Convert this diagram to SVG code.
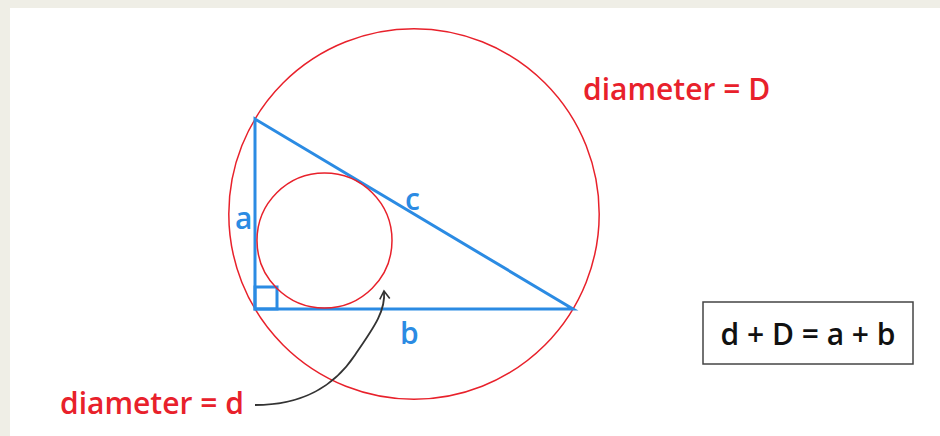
<svg xmlns="http://www.w3.org/2000/svg" width="940" height="436" viewBox="0 0 940 436">
<defs>
<style>
.red{fill:none;stroke:#e8212b;stroke-width:1.5}
.blue{fill:none;stroke:#2b8be3;stroke-width:3}
.lbl{font-family:"Open Sans","Liberation Sans",sans-serif;font-weight:600;font-size:30px}
.bl{fill:#2b8be3}
.rd{fill:#e8212b}
</style>
<marker id="ah" viewBox="0 0 12 12" refX="10" refY="6" markerWidth="12" markerHeight="12" markerUnits="userSpaceOnUse" orient="auto">
<path d="M2 1 L10 6 L2 11" fill="none" stroke="#333" stroke-width="1.6"/>
</marker>
</defs>
<rect width="940" height="436" fill="#efeee6"/>
<rect x="10" y="8" width="930" height="428" fill="#fff"/>
<g id="circumcircle"><circle class="red" cx="414" cy="214" r="185.2"/></g>
<g id="triangle">
<path class="blue" d="M255 119 L255 309 L573 309 Z" stroke-linejoin="miter"/>
<rect class="blue" x="255" y="287" width="22" height="22"/>
</g>
<g id="incircle"><circle class="red" cx="324.5" cy="240.5" r="67.5"/></g>
<g id="connectors">
<path d="M255 405 C305 405 335 385 355 355 C372 330 386 312 384 291" fill="none" stroke="#333" stroke-width="1.8" marker-end="url(#ah)"/>
</g>
<g id="labels">
<text class="lbl bl" x="235" y="229">a</text>
<text class="lbl bl" x="405" y="210">c</text>
<text class="lbl bl" x="400" y="344">b</text>
<text class="lbl rd" x="583" y="100">diameter = D</text>
<text class="lbl rd" x="60" y="414">diameter = d</text>
</g>
<g id="formula">
<rect x="703" y="302" width="210" height="62" fill="#fff" stroke="#444" stroke-width="1.5"/>
<text class="lbl" x="808" y="345" text-anchor="middle" fill="#111">d + D = a + b</text>
</g>
</svg>
